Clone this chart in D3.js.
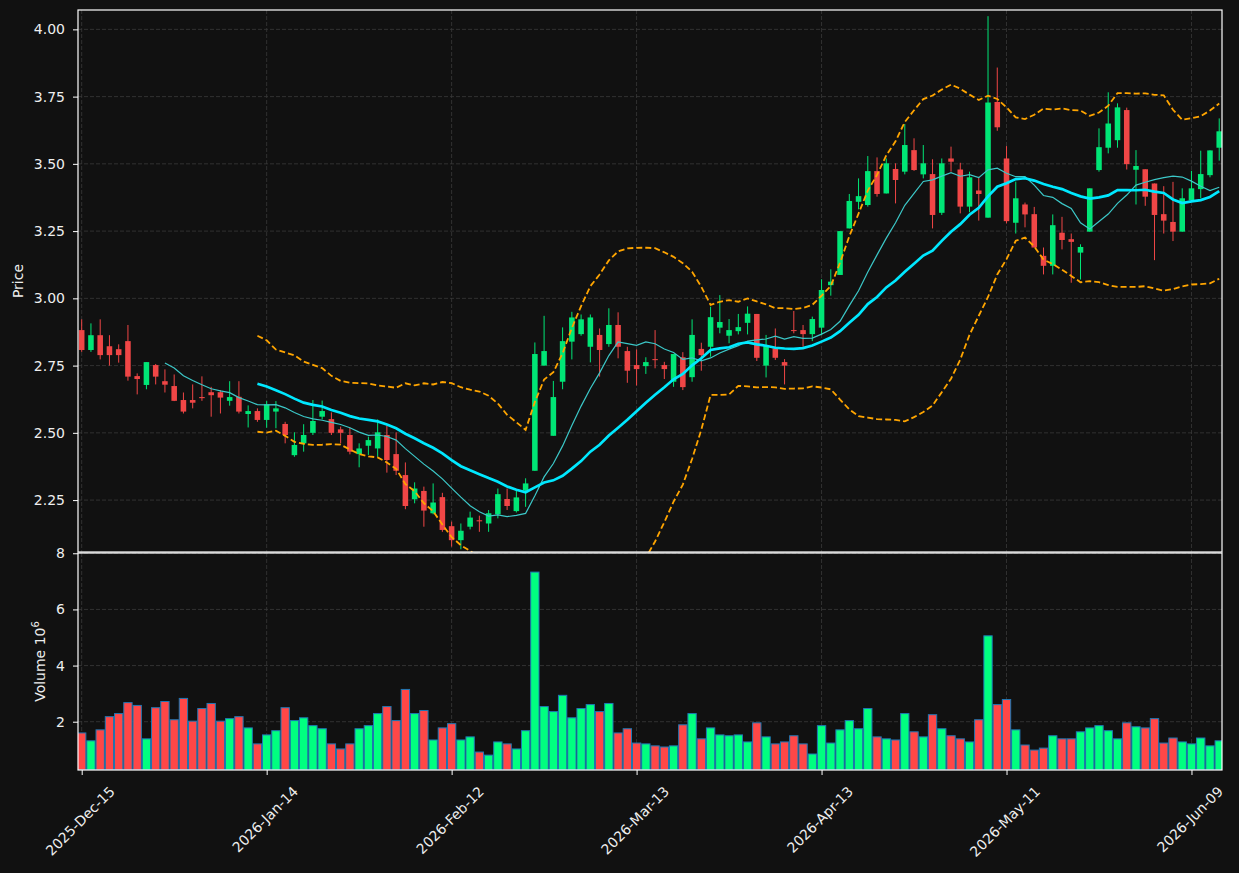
<!DOCTYPE html>
<html>
<head>
<meta charset="utf-8">
<script src="https://cdn.jsdelivr.net/npm/d3@7"></script>
<style>
  body { margin: 0; background: #111111; }
  svg { display: block; font-family: "DejaVu Sans", sans-serif; }
</style>
</head>
<body>
<svg id="chart"></svg>
<script>
// daily OHLC (index 0 = 2025-12-15)
var opens = [2.882, 2.808, 2.863, 2.822, 2.811, 2.841, 2.711, 2.678, 2.752, 2.692,
  2.674, 2.622, 2.622, 2.633, 2.651, 2.651, 2.619, 2.634, 2.570, 2.581,
  2.548, 2.579, 2.533, 2.417, 2.461, 2.500, 2.560, 2.551, 2.513, 2.492,
  2.421, 2.452, 2.442, 2.492, 2.421, 2.343, 2.253, 2.284, 2.201, 2.261,
  2.153, 2.101, 2.151, 2.175, 2.163, 2.197, 2.254, 2.209, 2.285, 2.359,
  2.750, 2.489, 2.690, 2.839, 2.867, 2.820, 2.864, 2.830, 2.901, 2.804,
  2.752, 2.748, 2.774, 2.752, 2.690, 2.781, 2.707, 2.812, 2.820, 2.891,
  2.861, 2.878, 2.909, 2.942, 2.750, 2.814, 2.763, 2.882, 2.882, 2.867,
  2.891, 3.049, 3.087, 3.260, 3.359, 3.347, 3.473, 3.390, 3.481, 3.471,
  3.551, 3.461, 3.462, 3.318, 3.520, 3.479, 3.341, 3.401, 3.300, 3.730,
  3.520, 3.281, 3.349, 3.313, 3.158, 3.121, 3.244, 3.220, 3.170, 3.248,
  3.477, 3.560, 3.588, 3.700, 3.478, 3.480, 3.427, 3.313, 3.284, 3.248,
  3.365, 3.406, 3.458, 3.560];
var highs = [2.922, 2.907, 2.922, 2.863, 2.829, 2.901, 2.721, 2.763, 2.756, 2.736,
  2.717, 2.650, 2.680, 2.710, 2.671, 2.659, 2.692, 2.692, 2.602, 2.591,
  2.618, 2.618, 2.541, 2.502, 2.532, 2.622, 2.620, 2.576, 2.523, 2.519,
  2.461, 2.486, 2.550, 2.526, 2.502, 2.390, 2.316, 2.300, 2.312, 2.277,
  2.170, 2.163, 2.207, 2.192, 2.213, 2.293, 2.293, 2.287, 2.331, 2.836,
  2.935, 2.693, 2.892, 2.950, 2.940, 2.940, 2.888, 2.963, 2.948, 2.820,
  2.810, 2.781, 2.882, 2.764, 2.793, 2.800, 2.922, 2.835, 2.969, 3.012,
  2.923, 2.942, 2.970, 2.942, 2.864, 2.888, 2.774, 2.953, 2.901, 2.932,
  3.071, 3.108, 3.250, 3.388, 3.446, 3.529, 3.524, 3.520, 3.502, 3.648,
  3.595, 3.570, 3.517, 3.520, 3.564, 3.504, 3.471, 3.452, 4.049, 3.858,
  3.566, 3.434, 3.356, 3.340, 3.189, 3.312, 3.303, 3.241, 3.201, 3.409,
  3.632, 3.766, 3.725, 3.709, 3.551, 3.480, 3.427, 3.417, 3.433, 3.409,
  3.474, 3.549, 3.550, 3.669];
var lows = [2.801, 2.801, 2.773, 2.750, 2.761, 2.694, 2.643, 2.662, 2.680, 2.650,
  2.618, 2.572, 2.591, 2.619, 2.560, 2.572, 2.601, 2.572, 2.520, 2.541,
  2.519, 2.517, 2.461, 2.411, 2.430, 2.492, 2.550, 2.492, 2.461, 2.420,
  2.372, 2.418, 2.411, 2.352, 2.343, 2.216, 2.238, 2.151, 2.197, 2.132,
  2.077, 2.067, 2.141, 2.132, 2.132, 2.182, 2.213, 2.204, 2.225, 2.359,
  2.750, 2.489, 2.662, 2.773, 2.861, 2.762, 2.709, 2.820, 2.777, 2.686,
  2.676, 2.719, 2.740, 2.700, 2.671, 2.659, 2.690, 2.731, 2.783, 2.870,
  2.833, 2.866, 2.866, 2.767, 2.706, 2.771, 2.680, 2.870, 2.820, 2.841,
  2.863, 3.010, 3.087, 3.260, 3.331, 3.341, 3.378, 3.390, 3.353, 3.461,
  3.474, 3.446, 3.260, 3.310, 3.471, 3.316, 3.320, 3.289, 3.300, 3.623,
  3.279, 3.241, 3.264, 3.189, 3.089, 3.089, 3.182, 3.058, 3.070, 3.248,
  3.471, 3.539, 3.560, 3.479, 3.349, 3.344, 3.142, 3.241, 3.213, 3.248,
  3.363, 3.372, 3.450, 3.512];
var closes = [2.808, 2.863, 2.789, 2.789, 2.789, 2.709, 2.700, 2.763, 2.709, 2.679,
  2.619, 2.579, 2.612, 2.629, 2.640, 2.631, 2.633, 2.579, 2.581, 2.548,
  2.606, 2.591, 2.492, 2.455, 2.492, 2.544, 2.581, 2.500, 2.500, 2.430,
  2.442, 2.473, 2.502, 2.399, 2.359, 2.228, 2.293, 2.211, 2.241, 2.139,
  2.101, 2.136, 2.185, 2.171, 2.201, 2.272, 2.228, 2.260, 2.312, 2.793,
  2.804, 2.633, 2.841, 2.929, 2.922, 2.929, 2.808, 2.901, 2.820, 2.731,
  2.737, 2.763, 2.771, 2.737, 2.793, 2.670, 2.864, 2.789, 2.930, 2.912,
  2.882, 2.893, 2.943, 2.779, 2.826, 2.779, 2.750, 2.880, 2.867, 2.923,
  3.031, 3.062, 3.250, 3.362, 3.380, 3.473, 3.388, 3.502, 3.440, 3.570,
  3.477, 3.502, 3.310, 3.502, 3.508, 3.341, 3.450, 3.388, 3.728, 3.636,
  3.287, 3.372, 3.312, 3.189, 3.121, 3.272, 3.217, 3.210, 3.191, 3.409,
  3.562, 3.650, 3.710, 3.499, 3.492, 3.378, 3.310, 3.289, 3.248, 3.372,
  3.409, 3.462, 3.550, 3.621];
// volume in millions
var volumes = [1.60, 1.32, 1.71, 2.18, 2.29, 2.68, 2.58, 1.39, 2.50, 2.72,
  2.07, 2.83, 2.02, 2.47, 2.65, 2.02, 2.11, 2.18, 1.78, 1.21,
  1.53, 1.68, 2.50, 2.04, 2.14, 1.86, 1.75, 1.21, 1.03, 1.21,
  1.75, 1.86, 2.29, 2.54, 2.04, 3.15, 2.29, 2.40, 1.35, 1.78,
  1.93, 1.35, 1.46, 0.92, 0.81, 1.28, 1.21, 1.03, 1.68, 7.33,
  2.54, 2.36, 2.94, 2.14, 2.47, 2.61, 2.36, 2.65, 1.60, 1.75,
  1.24, 1.21, 1.14, 1.10, 1.14, 1.89, 2.29, 1.39, 1.78, 1.53,
  1.50, 1.53, 1.28, 1.96, 1.46, 1.21, 1.28, 1.50, 1.21, 0.85,
  1.86, 1.24, 1.71, 2.04, 1.75, 2.47, 1.46, 1.39, 1.35, 2.29,
  1.64, 1.46, 2.25, 1.75, 1.50, 1.39, 1.28, 2.07, 5.06, 2.61,
  2.79, 1.71, 1.17, 0.99, 1.06, 1.50, 1.39, 1.39, 1.64, 1.78,
  1.86, 1.68, 1.39, 1.96, 1.82, 1.78, 2.11, 1.24, 1.42, 1.28,
  1.21, 1.42, 1.14, 1.32];

var tickIdx = [0, 20, 40, 60, 80, 100, 120];
var tickLabels = ["2025-Dec-15", "2026-Jan-14", "2026-Feb-12", "2026-Mar-13",
  "2026-Apr-13", "2026-May-11", "2026-Jun-09"];
var priceTicks = [2.25, 2.50, 2.75, 3.00, 3.25, 3.50, 3.75, 4.00];
var volTicks = [2, 4, 6, 8];

var W = 1239, H = 873;
var left = 78, right = 1222;
var priceTop = 10, priceBottom = 552;
var volTop = 553, volBottom = 770;

var upColor = "#00e676", downColor = "#f04646";
var volUp = "#00ff80", volDown = "#ff4747";
var gridColor = "#3a3a3a";

var svg = d3.select("#chart")
    .attr("width", W)
    .attr("height", H);

svg.append("rect")
    .attr("width", W)
    .attr("height", H)
    .attr("fill", "#111111");

var x = d3.scaleLinear()
    .domain([-0.4, 123.3])
    .range([left, right]);
var step = x(1) - x(0);

var y = d3.scaleLinear()
    .domain([2.057, 4.072])
    .range([priceBottom, priceTop]);

var yv = d3.scaleLinear()
    .domain([0.28, 8.01])
    .range([volBottom, volTop]);

// clip paths for the two panels
var defs = svg.append("defs");
defs.append("clipPath").attr("id", "clip-price")
  .append("rect")
    .attr("x", left).attr("y", priceTop)
    .attr("width", right - left).attr("height", priceBottom - priceTop);
defs.append("clipPath").attr("id", "clip-vol")
  .append("rect")
    .attr("x", left).attr("y", volTop)
    .attr("width", right - left).attr("height", volBottom - volTop);

// grid
var grid = svg.append("g").attr("class", "grid")
    .attr("stroke", gridColor)
    .attr("stroke-width", 0.8)
    .attr("stroke-dasharray", "4,2");

grid.selectAll(".hp").data(priceTicks).enter().append("line")
    .attr("x1", left).attr("x2", right)
    .attr("y1", function(d) { return y(d); })
    .attr("y2", function(d) { return y(d); });
grid.selectAll(".hv").data(volTicks).enter().append("line")
    .attr("x1", left).attr("x2", right)
    .attr("y1", function(d) { return yv(d); })
    .attr("y2", function(d) { return yv(d); });
grid.selectAll(".vp").data(tickIdx).enter().append("line")
    .attr("x1", function(d) { return x(d); })
    .attr("x2", function(d) { return x(d); })
    .attr("y1", priceTop).attr("y2", priceBottom);
grid.selectAll(".vv").data(tickIdx).enter().append("line")
    .attr("x1", function(d) { return x(d); })
    .attr("x2", function(d) { return x(d); })
    .attr("y1", volTop).attr("y2", volBottom);

// moving averages + bollinger, computed from the closes
function rolling(n) {
    var out = [];
    for (var i = n - 1; i < closes.length; i++) {
        var win = closes.slice(i - n + 1, i + 1);
        var m = d3.mean(win);
        var sd = Math.sqrt(d3.mean(win, function(v) { return (v - m) * (v - m); }));
        out.push({i: i, mean: m, upper: m + 2 * sd, lower: m - 2 * sd});
    }
    return out;
}
var ma10 = rolling(10);
var ma20 = rolling(20);

var pricePlot = svg.append("g").attr("clip-path", "url(#clip-price)");

var candleData = closes.map(function(c, i) {
    return {i: i, o: opens[i], h: highs[i], l: lows[i], c: c, v: volumes[i]};
});

var candles = pricePlot.selectAll(".candle")
    .data(candleData)
    .enter().append("g")
    .attr("class", "candle");

candles.append("line")
    .attr("x1", function(d) { return x(d.i); })
    .attr("x2", function(d) { return x(d.i); })
    .attr("y1", function(d) { return y(d.h); })
    .attr("y2", function(d) { return y(d.l); })
    .attr("stroke", function(d) { return d.c >= d.o ? upColor : downColor; })
    .attr("stroke-width", 1);

candles.append("rect")
    .attr("x", function(d) { return x(d.i) - step * 0.3; })
    .attr("width", step * 0.6)
    .attr("y", function(d) { return y(Math.max(d.o, d.c)); })
    .attr("height", function(d) { return Math.max(1, Math.abs(y(d.o) - y(d.c))); })
    .attr("fill", function(d) { return d.c >= d.o ? upColor : downColor; });

var bandLine = function(key) {
    return d3.line()
        .x(function(d) { return x(d.i); })
        .y(function(d) { return y(d[key]); });
};

pricePlot.append("path")
    .datum(ma10)
    .attr("fill", "none")
    .attr("stroke", "#3cc8c8")
    .attr("stroke-width", 1.2)
    .attr("d", bandLine("mean"));

pricePlot.append("path")
    .datum(ma20)
    .attr("fill", "none")
    .attr("stroke", "#00e8ff")
    .attr("stroke-width", 2.7)
    .attr("d", bandLine("mean"));

["upper", "lower"].forEach(function(k) {
    pricePlot.append("path")
        .datum(ma20)
        .attr("fill", "none")
        .attr("stroke", "#ffa500")
        .attr("stroke-width", 1.8)
        .attr("stroke-dasharray", "6,3")
        .attr("d", bandLine(k));
});

// volume bars
var volPlot = svg.append("g").attr("clip-path", "url(#clip-vol)");
volPlot.selectAll(".vbar")
    .data(candleData)
    .enter().append("rect")
    .attr("class", "vbar")
    .attr("x", function(d) { return x(d.i) - step * 0.45; })
    .attr("width", step * 0.9)
    .attr("y", function(d) { return yv(d.v); })
    .attr("height", function(d) { return volBottom - yv(d.v); })
    .attr("fill", function(d) { return d.c >= d.o ? volUp : volDown; })
    .attr("stroke", "#1f77b4")
    .attr("stroke-width", 1);

// frames
[[priceTop, priceBottom], [volTop, volBottom]].forEach(function(p) {
    svg.append("rect")
        .attr("x", left).attr("y", p[0])
        .attr("width", right - left).attr("height", p[1] - p[0])
        .attr("fill", "none")
        .attr("stroke", "#ffffff")
        .attr("stroke-width", 1.2);
});

// axes
function styleAxis(g) {
    g.select(".domain").remove();
    g.selectAll(".tick line").attr("stroke", "#ffffff").attr("stroke-width", 1);
    g.selectAll(".tick text")
        .attr("fill", "#eeeeee")
        .attr("font-size", 14)
        .attr("font-family", "DejaVu Sans, sans-serif");
}

svg.append("g")
    .attr("transform", "translate(" + left + ",0)")
    .call(d3.axisLeft(y).tickValues(priceTicks).tickFormat(d3.format(".2f")).tickSize(5).tickPadding(8))
    .call(styleAxis);

svg.append("g")
    .attr("transform", "translate(" + left + ",0)")
    .call(d3.axisLeft(yv).tickValues(volTicks).tickFormat(d3.format("d")).tickSize(5).tickPadding(8))
    .call(styleAxis);

var xAxis = svg.append("g")
    .attr("transform", "translate(0," + volBottom + ")")
    .call(d3.axisBottom(x).tickValues(tickIdx)
        .tickFormat(function(d, i) { return tickLabels[i]; })
        .tickSize(5))
    .call(styleAxis);

xAxis.selectAll(".tick text").each(function() {
    var t = d3.select(this);
    var L = this.getComputedTextLength();
    var c = 14 + (L + 14) / (2 * Math.SQRT2);
    t.attr("text-anchor", "middle")
        .attr("x", 0).attr("y", 0).attr("dy", "0.35em")
        .attr("transform", "translate(-2," + c + ") rotate(-45)");
});

// axis titles
svg.append("text")
    .attr("transform", "translate(23," + ((priceTop + priceBottom) / 2) + ") rotate(-90)")
    .attr("text-anchor", "middle")
    .attr("fill", "#eeeeee")
    .attr("font-size", 14)
    .text("Price");

var vlab = svg.append("text")
    .attr("transform", "translate(45," + ((volTop + volBottom) / 2) + ") rotate(-90)")
    .attr("text-anchor", "middle")
    .attr("fill", "#eeeeee")
    .attr("font-size", 14);
vlab.append("tspan").text("Volume  10");
vlab.append("tspan").attr("font-size", 10).attr("dy", -6).text("6");
</script>
</body>
</html>
